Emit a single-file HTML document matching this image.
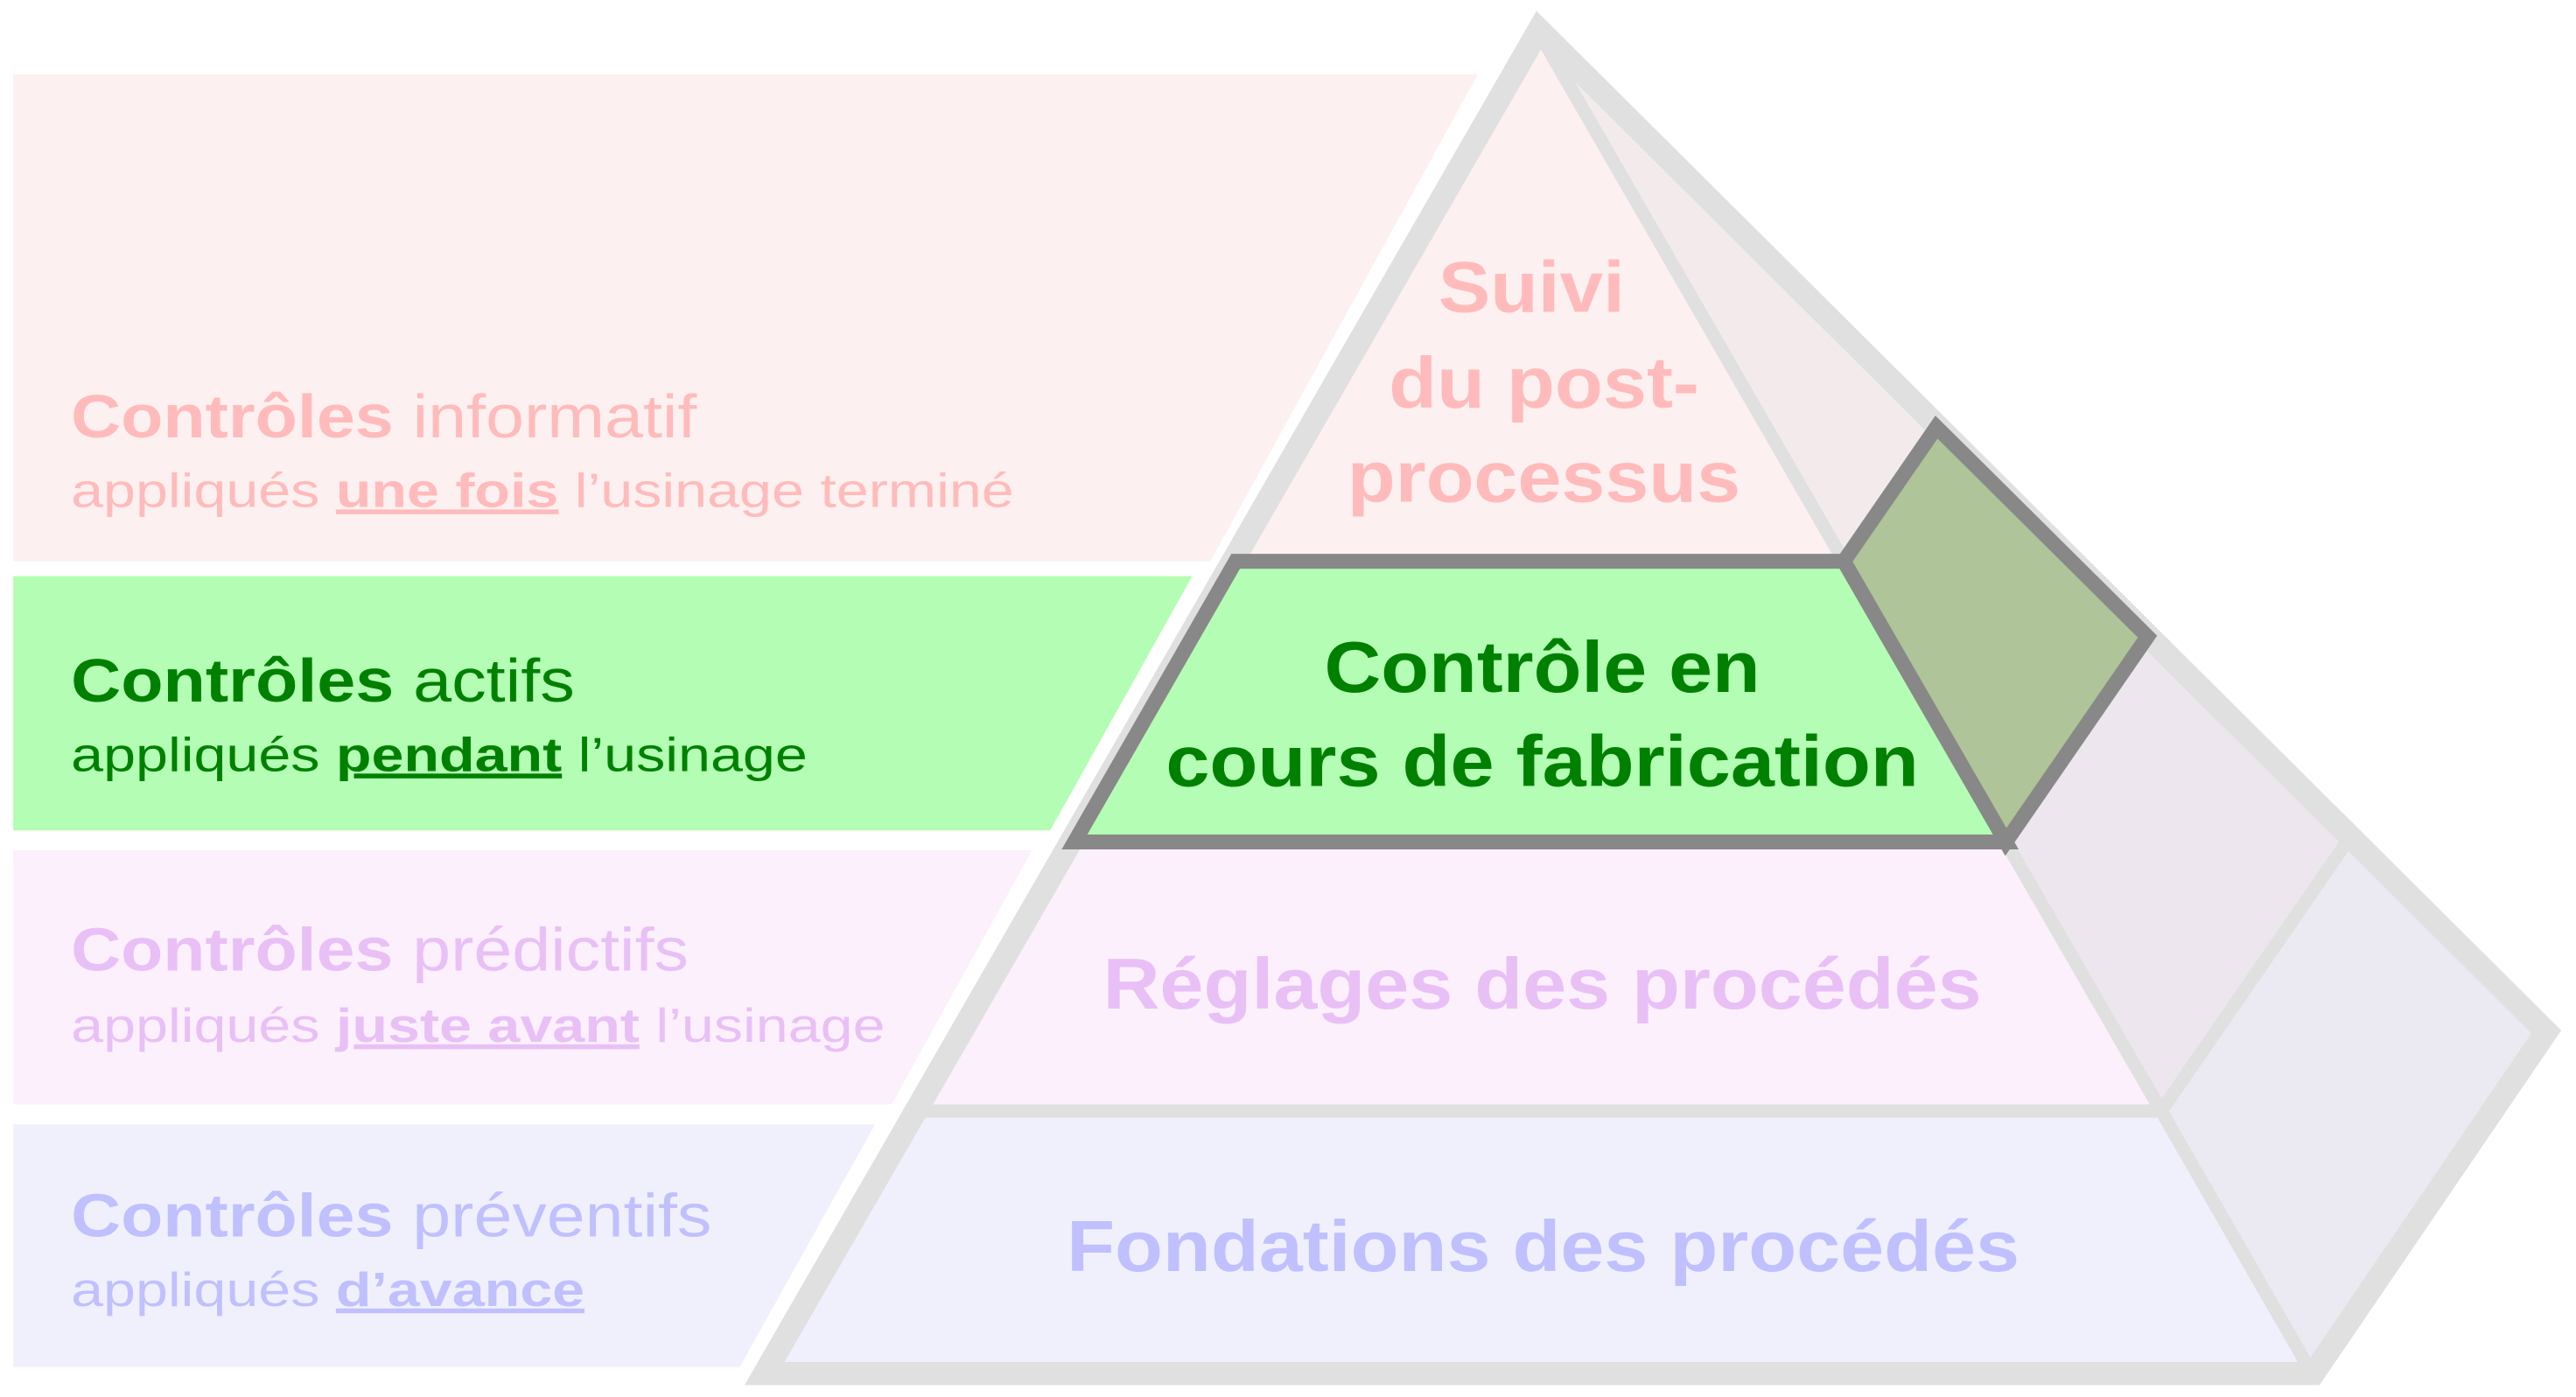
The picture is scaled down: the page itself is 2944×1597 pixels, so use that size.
<!DOCTYPE html>
<html><head><meta charset="utf-8"><style>
html,body{margin:0;padding:0;background:#fff;}
svg{display:block;}
text{font-family:"Liberation Sans",Arial,sans-serif;}
</style></head><body>
<svg width="2944" height="1597" viewBox="0 0 1560 846.2" xmlns="http://www.w3.org/2000/svg">
<g transform="translate(-3,-2)">
<polygon points="11,47 898,47 736,342 11,342" fill="#fdf0f0"/>
<polygon points="11,351 725,351 639,505 11,505" fill="#b4fdb4"/>
<polygon points="11,517 628,517 543,671 11,671" fill="#fcf0fd"/>
<polygon points="11,683 533,683 451,830 11,830" fill="#f0f0fd"/>

<polygon points="935,22 1175.7,260.7 1119.6,342" fill="#f3ebeb" stroke="#e0e0e0" stroke-width="8" stroke-linejoin="round"/>
<polygon points="1217.7,512 1303.5,387.6 1426.1,509.3 1311.8,675" fill="#eee6ee" stroke="#e0e0e0" stroke-width="8"/>
<polygon points="1311.8,675 1426.1,509.3 1545,627 1402,832" fill="#ebeaf2" stroke="#e0e0e0" stroke-width="8"/>

<polygon points="935,22 751.3,342 1119.6,342" fill="#fdf0f0" stroke="#e0e0e0" stroke-width="8"/>
<polygon points="653.7,512 1217.7,512 1311.8,675 560.2,675" fill="#fcf0fd" stroke="#e0e0e0" stroke-width="8"/>
<polygon points="560.2,675 1311.8,675 1402,832 470.1,832" fill="#f0f0fd" stroke="#e0e0e0" stroke-width="8"/>

<polygon points="935,20 1545,627 1404,834 466,834" fill="none" stroke="#e0e0e0" stroke-width="14" stroke-linejoin="miter"/>

<polygon points="1119.6,342 1175.7,260.7 1303.5,387.6 1217.7,512" fill="#afc498" stroke="#888" stroke-width="9"/>
<polygon points="751.3,342 1119.6,342 1217.7,512 653.7,512" fill="#b4fdb4" stroke="#888" stroke-width="9"/>

<g fill="#ffbbbb">
<text x="46" y="267" font-size="37" textLength="379" lengthAdjust="spacingAndGlyphs"><tspan font-weight="bold">Contrôles</tspan> informatif</text>
<text x="46" y="309" font-size="29" textLength="571" lengthAdjust="spacingAndGlyphs">appliqués <tspan font-weight="bold" text-decoration="underline">une fois</tspan> l’usinage terminé</text>
</g>
<g fill="#008000">
<text x="46" y="427" font-size="37" textLength="305" lengthAdjust="spacingAndGlyphs"><tspan font-weight="bold">Contrôles</tspan> actifs</text>
<text x="46" y="469" font-size="29" textLength="446" lengthAdjust="spacingAndGlyphs">appliqués <tspan font-weight="bold" text-decoration="underline">pendant</tspan> l’usinage</text>
</g>
<g fill="#e8c0f6">
<text x="46" y="590" font-size="37" textLength="374" lengthAdjust="spacingAndGlyphs"><tspan font-weight="bold">Contrôles</tspan> prédictifs</text>
<text x="46" y="633" font-size="29" textLength="493" lengthAdjust="spacingAndGlyphs">appliqués <tspan font-weight="bold" text-decoration="underline">juste avant</tspan> l’usinage</text>
</g>
<g fill="#c0c0ff">
<text x="46" y="751" font-size="37" textLength="388" lengthAdjust="spacingAndGlyphs"><tspan font-weight="bold">Contrôles</tspan> préventifs</text>
<text x="46" y="793" font-size="29" textLength="311" lengthAdjust="spacingAndGlyphs">appliqués <tspan font-weight="bold" text-decoration="underline">d’avance</tspan></text>
</g>

<g font-weight="bold" font-size="44">
<text x="874" y="191" fill="#ffbbbb" textLength="113" lengthAdjust="spacingAndGlyphs">Suivi</text>
<text x="844" y="249" fill="#ffbbbb" textLength="188" lengthAdjust="spacingAndGlyphs">du post-</text>
<text x="819" y="306" fill="#ffbbbb" textLength="238" lengthAdjust="spacingAndGlyphs">processus</text>
<text x="805" y="421" fill="#008000" textLength="264" lengthAdjust="spacingAndGlyphs">Contrôle en</text>
<text x="709" y="478" fill="#008000" textLength="456" lengthAdjust="spacingAndGlyphs">cours de fabrication</text>
<text x="671" y="613" fill="#e8c0f6" textLength="532" lengthAdjust="spacingAndGlyphs">Réglages des procédés</text>
<text x="649" y="772" fill="#c0c0ff" textLength="577" lengthAdjust="spacingAndGlyphs">Fondations des procédés</text>
</g>
</g>
</svg>
</body></html>
